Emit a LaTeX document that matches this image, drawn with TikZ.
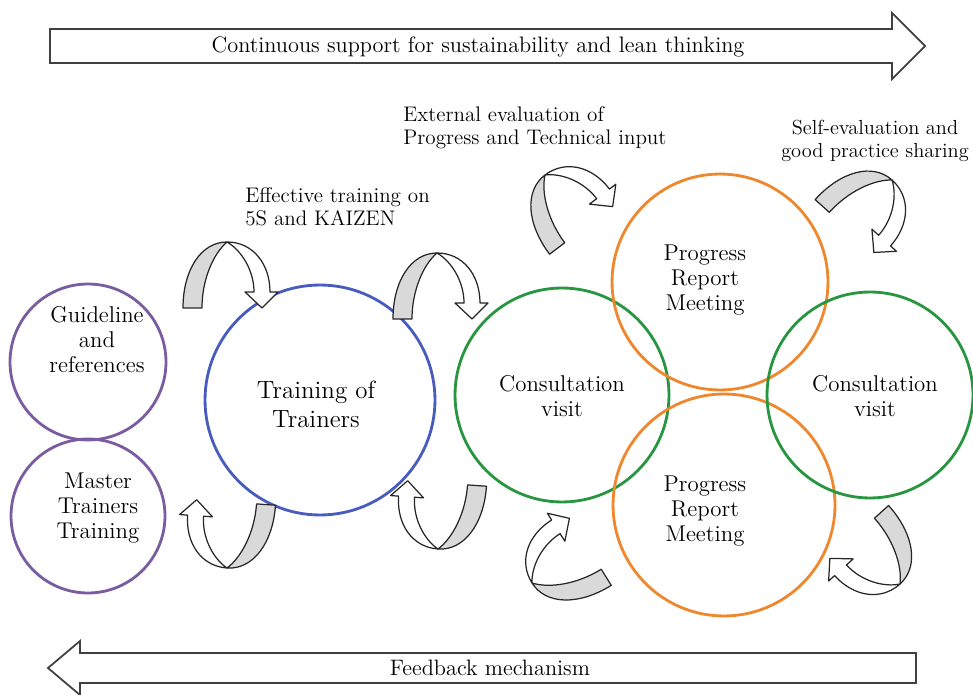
\documentclass[tikz,border=0pt]{standalone}
\usepackage{fontspec}

\definecolor{ringPurple}{RGB}{122,92,160}
\definecolor{ringBlue}{RGB}{72,92,190}
\definecolor{ringGreen}{RGB}{40,150,64}
\definecolor{ringOrange}{RGB}{238,135,45}
\definecolor{bandGray}{RGB}{217,217,217}

\begin{document}
\begin{tikzpicture}[x=0.02cm, y=-0.02cm,
    ringStyle/.style={circle, draw, line width=1.6pt, inner sep=0pt},
    ringText/.style={align=center, font=\fontsize{13}{14.2}\selectfont},
    noteText/.style={inner sep=0pt, font=\fontsize{12}{13}\selectfont},
    bigArrow/.style={draw=black!75, line width=1pt, fill=white},
    bandStyle/.style={draw=black!85, line width=0.7pt, line join=round},
    pics/twistArrow/.style={code={
        \filldraw[bandStyle, fill=bandGray] (-44,66) -- (-25,66) .. controls (-25,38) and (-14,12) .. (0,0)
            .. controls (-26,0) and (-44,28) .. (-44,66) -- cycle;
        \filldraw[bandStyle, fill=white] (0,0) .. controls (26,0) and (43,22) .. (43,50) -- (51,50) -- (35,66)
            -- (18,50) -- (27,50) .. controls (27,28) and (14,8) .. (0,0) -- cycle;
    }}]
    \useasboundingbox (0,0) rectangle (973,695);

    % big arrows
    \draw[bigArrow] (50,29) -- (892,29) -- (892,13) -- (925,46) -- (892,79) -- (892,63) -- (50,63) -- cycle;
    \node[font=\fontsize{12.7}{14}\selectfont] (top_lbl) at (478,47) {Continuous support for sustainability and lean thinking};

    \draw[bigArrow] (916,653) -- (80,653) -- (80,641) -- (48,668) -- (80,695) -- (80,683) -- (916,683) -- cycle;
    \node[font=\fontsize{12.7}{14}\selectfont] (bot_lbl) at (490,668) {Feedback mechanism};

    % circles
    \node[ringStyle, draw=ringPurple, minimum size=3.12cm] (ring_guide)  at ( 88, 362) {};
    \node[ringStyle, draw=ringPurple, minimum size=3.08cm] (ring_master) at ( 88, 516) {};
    \node[ringStyle, draw=ringBlue,   minimum size=4.6cm]  (ring_tot)    at (320, 400) {};
    \node[ringStyle, draw=ringGreen,  minimum size=4.28cm] (ring_cvL)    at (562, 395) {};
    \node[ringStyle, draw=ringOrange, minimum size=4.32cm] (ring_prT)    at (720, 282) {};
    \node[ringStyle, draw=ringOrange, minimum size=4.44cm] (ring_prB)    at (724, 505) {};
    \node[ringStyle, draw=ringGreen,  minimum size=4.12cm] (ring_cvR)    at (870, 395) {};

    \node[ringText] (txt_guide)  at ( 97, 340) {Guideline\\and\\references};
    \node[ringText] (txt_master) at ( 98, 508) {Master\\Trainers\\Training};
    \node[ringText, font=\fontsize{14.2}{16.5}\selectfont] (txt_tot) at (316, 404) {Training of\\Trainers};
    \node[ringText] (txt_cvL)    at (562, 396) {Consultation\\visit};
    \node[ringText] (txt_prT)    at (705, 280) {Progress\\Report\\Meeting};
    \node[ringText] (txt_prB)    at (705, 511) {Progress\\Report\\Meeting};
    \node[ringText] (txt_cvR)    at (875, 396) {Consultation\\visit};

    % notes
    \node[noteText, align=left, anchor=west]  (note_train) at (245, 207) {Effective training on\\5S and KAIZEN};
    \node[noteText, align=left, anchor=west]  (note_ext)   at (403, 128) {External evaluation of\\Progress and Technical input};
    \node[noteText, align=center, font=\fontsize{11.6}{13}\selectfont] (note_self) at (875, 141) {Self-evaluation and\\good practice sharing};

    % twisted arrows
    \pic at (227, 242) {twistArrow};
    \pic at (437, 253) {twistArrow};
    \pic[rotate=176] at (227, 568) {twistArrow};
    \pic[rotate=176] at (438, 549) {twistArrow};
    \pic[rotate=37]  at (545, 175) {twistArrow};
    \pic[rotate=-42] at (892, 180) {twistArrow};
    \pic[rotate=222] at (900, 584) {twistArrow};
    \pic[rotate=122] at (532, 583) {twistArrow};
\end{tikzpicture}
\end{document}
